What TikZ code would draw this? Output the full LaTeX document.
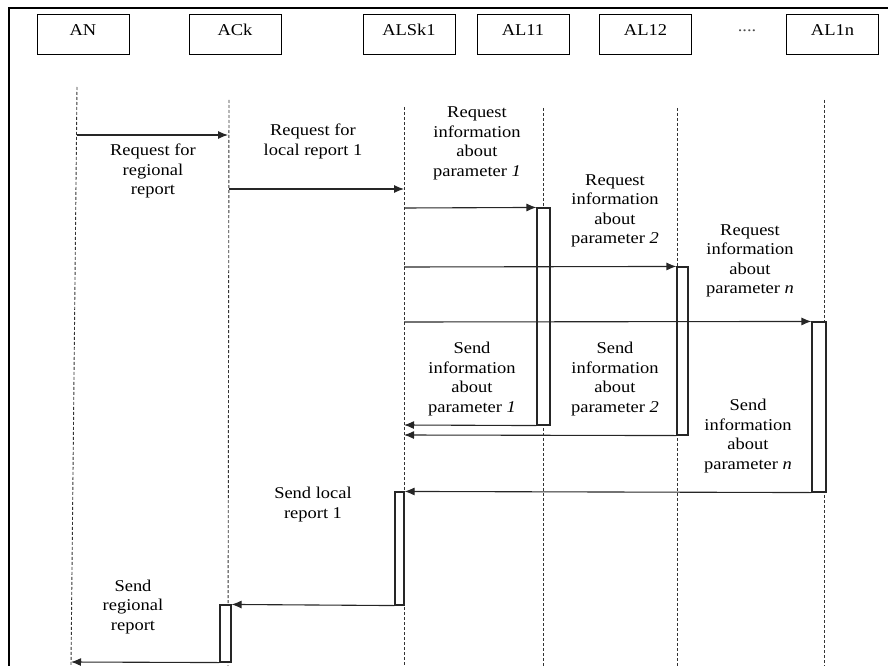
\documentclass[tikz,border=0pt]{standalone}
\usepackage{fontspec}
\setmainfont{Liberation Serif}[FakeStretch=1.12]
\usetikzlibrary{arrows.meta}
\tikzset{
  actor/.style={draw, line width=1pt, minimum width=92pt, minimum height=40pt,
    text depth=10pt, inner sep=0pt},
  life/.style={line width=0.9pt, dash pattern=on 3pt off 2pt, black!80},
  msg/.style={line width=1.1pt, black!85, -{Latex[length=10pt, width=8pt]}},
  actbox/.style={draw, line width=1.1pt, black!85, fill=white, inner sep=0pt},
  lbl/.style={align=center, inner sep=0pt}
}
\begin{document}
\begin{tikzpicture}[x=1pt, y=-1pt, font=\fontsize{16.5}{19.5}\selectfont]
  \useasboundingbox (0,0) rectangle (888,666);
  % frame
  \draw[line width=2.6pt] (9,666) -- (9,8) -- (888,8);

  % participants
  \node[actor] (an)   at (83,35)    {AN};
  \node[actor] (ack)  at (235,35)   {ACk};
  \node[actor] (als)  at (409,35)   {ALSk1};
  \node[actor] (al11) at (523,35)   {AL11};
  \node[actor] (al12) at (645.5,35) {AL12};
  \node[actor] (al1n) at (832.5,35) {AL1n};
  \node[text=black!70] (dots) at (747,31) {....};

  % lifelines
  \coordinate (anT)   at (77,87);   \coordinate (anB)   at (71,666);
  \coordinate (ackT)  at (229,100); \coordinate (ackB)  at (228,666);
  \coordinate (alsT)  at (404,107); \coordinate (alsB)  at (404,666);
  \coordinate (al11T) at (543,108); \coordinate (al11B) at (543,666);
  \coordinate (al12T) at (677,108); \coordinate (al12B) at (677,666);
  \coordinate (al1nT) at (824,100); \coordinate (al1nB) at (824,666);
  \foreach \l in {an, ack, als, al11, al12, al1n}
    \draw[life] (\l T) -- (\l B);

  % activations
  \node[actbox, minimum width=13pt, minimum height=217pt] (act11) at (543.5,316.5) {};
  \node[actbox, minimum width=11pt, minimum height=168pt] (act12) at (682.5,351) {};
  \node[actbox, minimum width=14pt, minimum height=170pt] (act1n) at (819,407) {};
  \node[actbox, minimum width=9pt,  minimum height=113pt] (actS)  at (399.5,548.5) {};
  \node[actbox, minimum width=11pt, minimum height=57pt]  (actC)  at (225.5,633.5) {};

  % requests
  \coordinate (r1) at (77,135);  \coordinate (r1e) at (228,135);
  \coordinate (r2) at (229,189); \coordinate (r2e) at (404,189);
  \coordinate (r3) at (404,208);
  \coordinate (r4) at (404,267);
  \coordinate (r5) at (404,322);
  \draw[msg] (r1) -- (r1e);
  \draw[msg] (r2) -- (r2e);
  \draw[msg] (r3) -- (act11.north west);
  \draw[msg] (r4) -- (act12.north west);
  \draw[msg] (r5) -- (act1n.north west);

  % answers
  \coordinate (s1) at (404,425);
  \coordinate (s2) at (404,435);
  \coordinate (s5) at (71,662);
  \draw[msg] (act11.south west) -- (s1);
  \draw[msg] (act12.south west) -- (s2);
  \draw[msg] (act1n.south west) -- (actS.north east);
  \draw[msg] (actS.south west) -- (actC.north east);
  \draw[msg] (actC.south west) -- (s5);

  % labels
  \node[lbl] (t1)  at (153,171)   {Request for\\regional\\report};
  \node[lbl] (t2)  at (313,141.5) {Request for\\local report 1};
  \node[lbl] (t3)  at (477,143.5) {Request\\information\\about\\parameter \textit{1}};
  \node[lbl] (t4)  at (615,211)   {Request\\information\\about\\parameter \textit{2}};
  \node[lbl] (t5)  at (750,261)   {Request\\information\\about\\parameter \textit{n}};
  \node[lbl] (t6)  at (472,379)   {Send\\information\\about\\parameter \textit{1}};
  \node[lbl] (t7)  at (615,379)   {Send\\information\\about\\parameter \textit{2}};
  \node[lbl] (t8)  at (748,436)   {Send\\information\\about\\parameter \textit{n}};
  \node[lbl] (t9)  at (313,504.5) {Send local\\report 1};
  \node[lbl] (t10) at (133,607)   {Send\\regional\\report};
\end{tikzpicture}
\end{document}
